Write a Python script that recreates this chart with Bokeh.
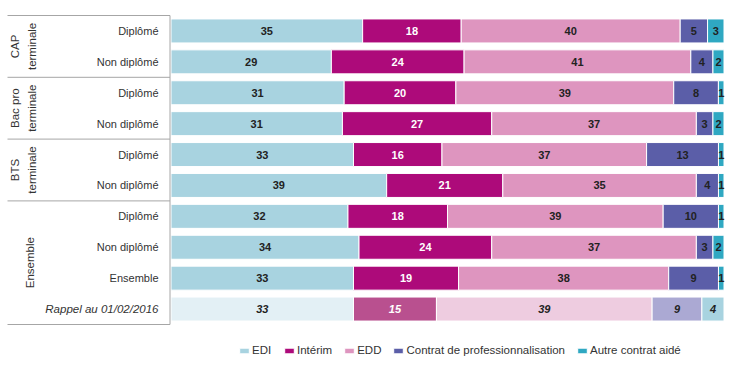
import numpy as np
from bokeh.plotting import figure
from bokeh.models import ColumnDataSource, Range1d, Legend, LegendItem
from bokeh.core.properties import value
from bokeh.embed import file_html
from bokeh.resources import INLINE

# ---------------- data ----------------
series = ["EDI", "Intérim", "EDD", "Contrat de professionnalisation", "Autre contrat aidé"]
groups = ["CAP\nterminale", "Bac pro\nterminale", "BTS\nterminale", "Ensemble"]
group_sizes = [2, 2, 2, 4]
row_labels = ["Diplômé", "Non diplômé", "Diplômé", "Non diplômé", "Diplômé",
              "Non diplômé", "Diplômé", "Non diplômé", "Ensemble", "Rappel au 01/02/2016"]
edi = [35, 29, 31, 31, 33, 39, 32, 34, 33, 33]
interim = [18, 24, 20, 27, 16, 21, 18, 24, 19, 15]
edd = [40, 41, 39, 37, 37, 35, 39, 37, 38, 39]
contrat = [5, 4, 8, 3, 13, 4, 10, 3, 9, 9]
autre = [3, 2, 1, 2, 1, 1, 1, 2, 1, 4]
values = [edi, interim, edd, contrat, autre]

# ---------------- styles ----------------
main_colors = ["#a8d3e0", "#ad0a7a", "#de95bf", "#5b5ea8", "#2fa8c2"]
rappel_colors = ["#e3f0f5", "#b9508f", "#eecce0", "#aba9d3", "#a8d3e0"]
label_colors = ["#222222", "#ffffff", "#222222", "#222222", "#222222"]
FONT_NAME = "Liberation Sans"
FONT = value(FONT_NAME)
TXT = "#333333"

FIG_W, FIG_H = 740, 366
ZERO_PX, FULL_PX = 170.5, 723.5
UNIT = (FULL_PX - ZERO_PX) / 100.0
ROW_PX, ROW0_PX = 30.9, 30.45
BAR_H = 24 / ROW_PX

def px_x(px):
    return (px - ZERO_PX) / UNIT

p = figure(width=FIG_W, height=FIG_H, output_backend="svg", toolbar_location=None,
           x_range=Range1d(px_x(0), px_x(FIG_W)),
           y_range=Range1d((FIG_H - ROW0_PX) / ROW_PX, -ROW0_PX / ROW_PX),
           x_axis_location=None, y_axis_location=None, min_border=0)
p.outline_line_color = None
p.xgrid.visible = False
p.ygrid.visible = False

n = len(row_labels)
rows = np.arange(n)
vals = np.array(values, dtype=float)
totals = vals.sum(axis=0)
pct = vals / totals * 100.0
rights = np.cumsum(pct, axis=0)
lefts = rights - pct
is_rappel = np.array([lab.startswith("Rappel") for lab in row_labels])

legend_items = []
for j, name in enumerate(series):
    colors = [rappel_colors[j] if r else main_colors[j] for r in is_rappel]
    src = ColumnDataSource(dict(y=rows, left=lefts[j], right=rights[j], color=colors))
    r = p.hbar(y="y", left="left", right="right", height=BAR_H, source=src,
               fill_color="color", line_color="white", line_width=1)
    legend_items.append(LegendItem(label=name, renderers=[r], index=0))

    mid = (lefts[j] + rights[j]) / 2
    for rap, style in [(False, "bold"), (True, "bold italic")]:
        mask = is_rappel == rap
        tsrc = ColumnDataSource(dict(x=mid[mask], y=rows[mask],
                                     t=[str(int(v)) for v in vals[j][mask]]))
        p.text(x="x", y="y", text="t", source=tsrc, text_font=FONT,
               text_font_size="11px", text_font_style=style,
               text_color=label_colors[j], text_align="center", text_baseline="middle")

# row labels
lab_x = px_x(158)
for rap, style, size in [(False, "normal", "11px"), (True, "italic", "11.5px")]:
    mask = is_rappel == rap
    src = ColumnDataSource(dict(x=[lab_x] * int(mask.sum()), y=rows[mask],
                                t=[l for l, m in zip(row_labels, mask) if m]))
    p.text(x="x", y="y", text="t", source=src, text_font=FONT, text_font_size=size,
           text_font_style=style, text_color=TXT, text_align="right", text_baseline="middle")

# group labels
ends = np.cumsum(group_sizes)
starts = ends - np.array(group_sizes)
gcent = (starts + ends - 1) / 2.0
gxs = [px_x(38) if "\n" in g else px_x(35) for g in groups]
gsrc = ColumnDataSource(dict(x=gxs, y=gcent, t=groups))
p.text(x="x", y="y", text="t", source=gsrc, angle=np.pi / 2, text_font=FONT,
       text_font_size="11.5px", text_color=TXT, text_align="center",
       text_baseline="bottom", text_line_height=1.45)

# table lines
bounds = np.concatenate([[-0.5], ends - 0.5])
x_left = px_x(7)
x_vert = px_x(169.5)
p.segment(x0=[x_left] * len(bounds), x1=[x_vert] * len(bounds), y0=bounds, y1=bounds,
          line_color="#a6a6a6", line_width=1)
p.segment(x0=[x_vert], x1=[x_vert], y0=[bounds[0]], y1=[bounds[-1]],
          line_color="#a6a6a6", line_width=1)

legend = Legend(items=legend_items, orientation="horizontal", location=(238, 10),
                glyph_width=12, glyph_height=7, label_standoff=2, spacing=11,
                padding=0, margin=0, border_line_color=None, background_fill_alpha=0,
                label_text_font=FONT_NAME, label_text_font_size="11.5px",
                label_text_color=TXT, label_height=12)
p.add_layout(legend)

open("out.html", "w").write(file_html(p, INLINE))
